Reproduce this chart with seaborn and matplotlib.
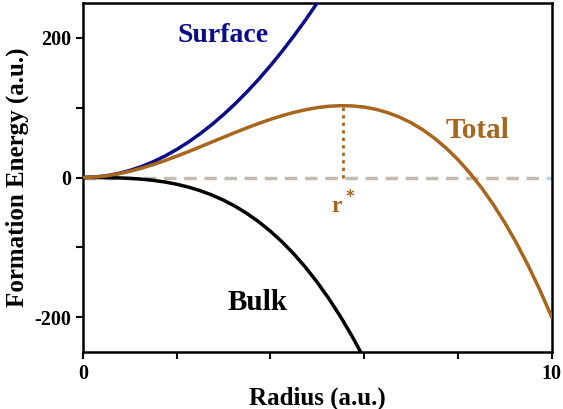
import matplotlib
matplotlib.use("Agg")
import matplotlib.pyplot as plt
import seaborn as sns
import pandas as pd

# Data
radius = [0, 0.25, 0.5, 0.75, 1, 1.25, 1.5, 1.75, 2, 2.25, 2.5, 2.75, 3, 3.25, 3.5,
          3.75, 4, 4.25, 4.5, 4.75, 5, 5.25, 5.5, 5.75, 6, 6.25, 6.5, 6.75, 7, 7.25,
          7.5, 7.75, 8, 8.25, 8.5, 8.75, 9, 9.25, 9.5, 9.75, 10]
surface = [0, 0.6, 2.5, 5.6, 10, 15.6, 22.5, 30.6, 40, 50.6, 62.5, 75.6, 90, 105.6,
           122.5, 140.6, 160, 180.6, 202.5, 225.6, 250, 275.6]
bulk = [0, -0.02, -0.15, -0.51, -1.2, -2.34, -4.05, -6.43, -9.6, -13.67, -18.75,
        -24.96, -32.4, -41.19, -51.45, -63.28, -76.8, -92.12, -109.35, -128.61,
        -150, -173.64, -199.65, -228.13, -259.2, -292.97]
total = [0, 0.61, 2.35, 5.12, 8.8, 13.28, 18.45, 24.19, 30.4, 36.96, 43.75, 50.67,
         57.6, 64.43, 71.05, 77.34, 83.2, 88.51, 93.15, 97.02, 100, 101.98, 102.85,
         102.49, 100.8, 97.66, 92.95, 86.57, 78.4, 68.33, 56.25, 42.04, 25.6, 6.81,
         -14.45, -38.28, -64.8, -94.12, -126.35, -161.61, -200]
r_star = 5.55
e_star = 102.9

x_ticks = [0, 2, 4, 6, 8, 10]
x_ticklabels = ["0", "", "", "", "", "10"]
y_ticks = [-200, -100, 0, 100, 200]
y_ticklabels = ["-200", "", "0", "", "200"]

sns.set_theme(style="ticks")
plt.rcParams["font.family"] = ["Liberation Serif", "DejaVu Serif"]
plt.rcParams["font.weight"] = "bold"
plt.rcParams["text.color"] = "black"
plt.rcParams["axes.labelcolor"] = "black"
plt.rcParams["xtick.color"] = "black"
plt.rcParams["ytick.color"] = "black"

navy = "#0b0b8a"
brown = "#a8651c"
grey = "#c4bcb0"

fig = plt.figure(figsize=(5.63, 4.09), dpi=100)
ax = fig.add_axes([0.147, 0.139, 0.833, 0.854])

df_s = pd.DataFrame({"r": radius[:len(surface)], "E": surface})
df_b = pd.DataFrame({"r": radius[:len(bulk)], "E": bulk})
df_t = pd.DataFrame({"r": radius, "E": total})

ax.plot([9.92, 10], [0, 0], color="#add8e6", lw=2.5, zorder=1)
ax.plot([0, 9.9], [0, 0], color=grey, lw=2.5, dashes=(3.6, 2.2), zorder=1.5)

sns.lineplot(data=df_s, x="r", y="E", color=navy, lw=2.5, ax=ax, zorder=3)
sns.lineplot(data=df_b, x="r", y="E", color="black", lw=2.5, ax=ax, zorder=3)
sns.lineplot(data=df_t, x="r", y="E", color=brown, lw=2.5, ax=ax, zorder=4)
ax.plot([r_star, r_star], [0, e_star], color=brown, lw=2, ls=(0, (1.2, 1.5)), zorder=2)

ax.text(3.0, 203, "Surface", color=navy, fontsize=20, fontweight="bold",
        ha="center", va="center")
ax.text(8.42, 67, "Total", color=brown, fontsize=21, fontweight="bold",
        ha="center", va="center")
ax.text(3.73, -179, "Bulk", color="black", fontsize=21, fontweight="bold",
        ha="center", va="center")
ax.text(r_star, -40, r"r$^*$", color=brown, fontsize=17, fontweight="bold",
        ha="center", va="center")

ax.set_xlim(0, 10)
ax.set_ylim(-250, 250)
ax.set_xticks(x_ticks)
ax.set_xticklabels(x_ticklabels)
ax.set_yticks(y_ticks)
ax.set_yticklabels(y_ticklabels)
ax.tick_params(labelsize=14.5, width=1.5, length=5, color="black", labelcolor="black")
for lab in ax.get_xticklabels() + ax.get_yticklabels():
    lab.set_fontweight("bold")
for s in ax.spines.values():
    s.set_visible(True)
    s.set_linewidth(1.8)
    s.set_color("black")
ax.set_xlabel("Radius (a.u.)", fontsize=18, fontweight="bold", labelpad=2, color="black")
ax.set_ylabel("Formation Energy (a.u.)", fontsize=18, fontweight="bold", labelpad=4,
              color="black")

fig.savefig("out.png", dpi=100)
